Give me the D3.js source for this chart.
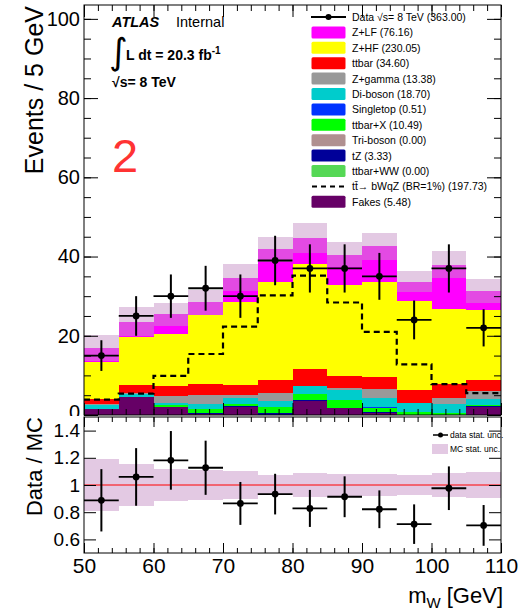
<!DOCTYPE html>
<html>
<meta charset="utf-8">
<style>
body { margin: 0; background: #fff; }
svg { display: block; font-family: "Liberation Sans", Arial, Helvetica, sans-serif; }
.tick line { stroke: #000; }
.domain { display: none; }
.frame { fill: none; stroke: #000; stroke-width: 1; }
text.leg { font-size: 10.5px; fill: #000; }
</style>
<body>
<svg id="chart" width="528" height="610"></svg>
<script src="https://d3js.org/d3.v7.min.js"></script>
<script>

// bins of m_W, 5 GeV wide
var binLow = [50, 55, 60, 65, 70, 75, 80, 85, 90, 95, 100, 105];
var dataCounts = [15, 25, 30, 32, 30, 39, 37, 37, 35, 24, 37, 22];

// backgrounds, bottom of the stack first
var fakes     = [1.4, 4.6, 1.9, 0.2, 2.0, 0.0, 3.5, 1.7, 0.6, 0.0, 0.0, 2.1];
var ttbarWW   = [0, 0, 0, 0, 0, 0, 0, 0, 0, 0, 0, 0];
var tZ        = [0, 0, 0.1, 0.2, 0.3, 0.4, 0.4, 0.15, 0.1, 0.1, 0.1, 0.05];
var triboson  = [0, 0, 0, 0, 0, 0, 0, 0, 0, 0, 0, 0];
var ttbarX    = [0.1, 0, 0.5, 1.0, 0.6, 1.6, 1.5, 2.0, 1.0, 0.6, 0.4, 0.4];
var singletop = [0, 0, 0, 0, 0, 0.1, 0, 0, 0.3, 0, 0.1, 0];
var diboson   = [1.1, 0.8, 0.6, 1.3, 1.4, 1.5, 2.0, 2.4, 2.3, 2.3, 2.1, 1.5];
var zgamma    = [0.3, 0.25, 1.6, 2.4, 0.7, 1.95, 0, 0.5, 2.2, 0, 1.7, 2.1];
var ttbar     = [1.2, 1.85, 2.5, 2.7, 2.5, 3.25, 4.2, 3.2, 3.2, 3.2, 3.4, 2.8];
var zhf       = [9.4, 12.2, 13.2, 17.4, 21.1, 24.7, 26.5, 22.95, 24.0, 22.7, 19.0, 17.55];
var zlf       = [3.4, 3.9, 5.0, 3.2, 6.1, 8.3, 6.6, 7.6, 8.9, 4.8, 11.1, 4.8];

// signal (not stacked) and MC relative stat. uncertainty
var signal   = [3.9, 5.4, 9.9, 15.4, 22.3, 30.2, 35.2, 28.4, 21.0, 12.8, 7.8, 5.5];
var mcRelErr = [0.19, 0.155, 0.115, 0.11, 0.10, 0.075, 0.085, 0.08, 0.08, 0.075, 0.09, 0.095];

var yTicksMain = [0, 20, 40, 60, 80, 100];
var yTicksRatio = [0.6, 0.8, 1.0, 1.2, 1.4];
var xTicks = [50, 60, 70, 80, 90, 100, 110];

var legendLabels = ["Data \u221As= 8 TeV (363.00)", "Z+LF (76.16)", "Z+HF (230.05)", "ttbar (34.60)",
  "Z+gamma (13.38)", "Di-boson (18.70)", "Singletop (0.51)", "ttbar+X (10.49)", "Tri-boson (0.00)",
  "tZ (3.33)", "ttbar+WW (0.00)", "t\u0074\u0304\u2192 bWqZ (BR=1%) (197.73)", "Fakes (5.48)"];

var series = [
  {key: "fakes", vals: fakes, color: "#660066"},
  {key: "ttbarWW", vals: ttbarWW, color: "#55d855"},
  {key: "tZ", vals: tZ, color: "#000099"},
  {key: "triboson", vals: triboson, color: "#b09090"},
  {key: "ttbarX", vals: ttbarX, color: "#00ff00"},
  {key: "singletop", vals: singletop, color: "#0033ff"},
  {key: "diboson", vals: diboson, color: "#00cccc"},
  {key: "zgamma", vals: zgamma, color: "#999999"},
  {key: "ttbar", vals: ttbar, color: "#ff0000"},
  {key: "zhf", vals: zhf, color: "#ffff00"},
  {key: "zlf", vals: zlf, color: "#ff00ff"}
];
var legendKeys = {1: "zlf", 2: "zhf", 3: "ttbar", 4: "zgamma", 5: "diboson", 6: "singletop",
  7: "ttbarX", 8: "triboson", 9: "tZ", 10: "ttbarWW", 12: "fakes"};

var svg = d3.select("#chart");
var x = d3.scaleLinear().domain([50, 110]).range([84, 501]);
var y = d3.scaleLinear().domain([0, 103.5]).range([415, 5]);
var yr = d3.scaleLinear().domain([0.5, 1.5]).range([553, 417]);

var rows = binLow.map(function(b, i) {
  var r = {bin: b};
  series.forEach(function(s) { r[s.key] = s.vals[i]; });
  return r;
});
var stacked = d3.stack().keys(series.map(function(s) { return s.key; }))(rows);
var totals = binLow.map(function(b, i) { return d3.sum(series, function(s) { return s.vals[i]; }); });

svg.append("clipPath").attr("id", "upclip").append("rect")
  .attr("x", 0).attr("y", 0).attr("width", 528).attr("height", 416);

var up = svg.append("g").attr("clip-path", "url(#upclip)");

// stack
stacked.forEach(function(layer, li) {
  up.append("g").selectAll("rect").data(layer).enter().append("rect")
    .attr("x", function(d) { return x(d.data.bin); })
    .attr("width", function(d) { return x(d.data.bin + 5) - x(d.data.bin); })
    .attr("y", function(d) { return y(d[1]); })
    .attr("height", function(d) { return Math.max(0, y(d[0]) - y(d[1])); })
    .attr("fill", series[li].color)
    .attr("shape-rendering", "crispEdges");
});

// MC stat band
up.append("g").selectAll("rect").data(binLow).enter().append("rect")
  .attr("x", function(d) { return x(d); })
  .attr("width", function(d) { return x(d + 5) - x(d); })
  .attr("y", function(d, i) { return y(totals[i] * (1 + mcRelErr[i])); })
  .attr("height", function(d, i) { return y(totals[i] * (1 - mcRelErr[i])) - y(totals[i] * (1 + mcRelErr[i])); })
  .attr("fill", "#c894c8").attr("fill-opacity", 0.5)
  .attr("shape-rendering", "crispEdges");

// signal dashed
var sigPts = binLow.map(function(b, i) { return [b, signal[i]]; });
sigPts.push([110, signal[signal.length - 1]]);
up.append("path").datum(sigPts)
  .attr("d", d3.line().curve(d3.curveStepAfter)
    .x(function(d) { return x(d[0]); }).y(function(d) { return y(d[1]); }))
  .attr("fill", "none").attr("stroke", "#000").attr("stroke-width", 2.2)
  .attr("stroke-dasharray", "6,4");

// data points
var pts = up.append("g");
binLow.forEach(function(b, i) {
  var n = dataCounts[i], e = Math.sqrt(n), cx = x(b + 2.5);
  pts.append("line").attr("x1", x(b)).attr("x2", x(b + 5)).attr("y1", y(n)).attr("y2", y(n))
    .attr("stroke", "#000").attr("stroke-width", 1.8);
  pts.append("line").attr("x1", cx).attr("x2", cx).attr("y1", y(n - e)).attr("y2", y(n + e))
    .attr("stroke", "#000").attr("stroke-width", 2);
  pts.append("circle").attr("cx", cx).attr("cy", y(n)).attr("r", 3.4).attr("fill", "#000");
});

function styleAxis(g, size) {
  g.selectAll("text").attr("font-family", "Liberation Sans, Arial, sans-serif")
    .attr("font-size", size).attr("fill", "#000");
  g.selectAll(".tick line").attr("stroke", "#000");
}

// upper axes
var minorY = d3.range(0, 104, 5);
var minorX = d3.range(50, 111, 2);
up.append("g").attr("transform", "translate(84,0)")
  .call(d3.axisLeft(y).tickValues(yTicksMain).tickSize(-14).tickPadding(4).tickFormat(d3.format("d")))
  .call(styleAxis, 20)
  .selectAll(".tick text").filter(function(d) { return d === 0; }).attr("dy", "0.15em");
up.append("g").attr("transform", "translate(84,0)")
  .call(d3.axisLeft(y).tickValues(minorY).tickSize(-7).tickFormat(""));
up.append("g").attr("transform", "translate(501,0)")
  .call(d3.axisRight(y).tickValues(yTicksMain).tickSize(-14).tickFormat(""));
up.append("g").attr("transform", "translate(501,0)")
  .call(d3.axisRight(y).tickValues(minorY).tickSize(-7).tickFormat(""));
up.append("g").attr("transform", "translate(0,5)")
  .call(d3.axisTop(x).tickValues(xTicks).tickSize(-12).tickFormat(""));
up.append("g").attr("transform", "translate(0,5)")
  .call(d3.axisTop(x).tickValues(minorX).tickSize(-6).tickFormat(""));
up.append("g").attr("transform", "translate(0,415)")
  .call(d3.axisBottom(x).tickValues(xTicks).tickSize(-12).tickFormat(""));
up.append("g").attr("transform", "translate(0,415)")
  .call(d3.axisBottom(x).tickValues(minorX).tickSize(-6).tickFormat(""));
up.append("rect").attr("class", "frame").attr("x", 84).attr("y", 5).attr("width", 417).attr("height", 410);

// ratio panel
var rp = svg.append("g");
rp.append("g").selectAll("rect").data(binLow).enter().append("rect")
  .attr("x", function(d) { return x(d); })
  .attr("width", function(d) { return x(d + 5) - x(d); })
  .attr("y", function(d, i) { return yr(1 + mcRelErr[i]); })
  .attr("height", function(d, i) { return yr(1 - mcRelErr[i]) - yr(1 + mcRelErr[i]); })
  .attr("fill", "#c894c8").attr("fill-opacity", 0.5)
  .attr("shape-rendering", "crispEdges");
rp.append("line").attr("x1", 84).attr("x2", 501).attr("y1", yr(1)).attr("y2", yr(1))
  .attr("stroke", "#ff0000").attr("stroke-width", 1);
binLow.forEach(function(b, i) {
  var r = dataCounts[i] / totals[i], e = Math.sqrt(dataCounts[i]) / totals[i], cx = x(b + 2.5);
  rp.append("line").attr("x1", x(b)).attr("x2", x(b + 5)).attr("y1", yr(r)).attr("y2", yr(r))
    .attr("stroke", "#000").attr("stroke-width", 1.8);
  rp.append("line").attr("x1", cx).attr("x2", cx).attr("y1", yr(r - e)).attr("y2", yr(r + e))
    .attr("stroke", "#000").attr("stroke-width", 2);
  rp.append("circle").attr("cx", cx).attr("cy", yr(r)).attr("r", 3.4).attr("fill", "#000");
});
rp.append("g").attr("transform", "translate(84,0)")
  .call(d3.axisLeft(yr).tickValues(yTicksRatio).tickSize(-12).tickPadding(4)
    .tickFormat(function(d) { return d === 1 ? "1" : d3.format(".1f")(d); }))
  .call(styleAxis, 19);
rp.append("g").attr("transform", "translate(501,0)")
  .call(d3.axisRight(yr).tickValues(yTicksRatio).tickSize(-12).tickFormat(""));
rp.append("g").attr("transform", "translate(0,417)")
  .call(d3.axisTop(x).tickValues(xTicks).tickSize(-10).tickFormat(""));
rp.append("g").attr("transform", "translate(0,417)")
  .call(d3.axisTop(x).tickValues(minorX).tickSize(-5).tickFormat(""));
rp.append("g").attr("transform", "translate(0,553)")
  .call(d3.axisBottom(x).tickValues(xTicks).tickSize(-10).tickPadding(5).tickFormat(d3.format("d")))
  .call(styleAxis, 21);
rp.append("g").attr("transform", "translate(0,553)")
  .call(d3.axisBottom(x).tickValues(minorX).tickSize(-5).tickFormat(""));
rp.append("rect").attr("class", "frame").attr("x", 84).attr("y", 417).attr("width", 417).attr("height", 136);

// axis titles
svg.append("text").attr("transform", "translate(43,6) rotate(-90)")
  .attr("text-anchor", "end").attr("font-size", 25).text("Events / 5 GeV");
svg.append("text").attr("transform", "translate(42,417) rotate(-90)")
  .attr("text-anchor", "end").attr("font-size", 22).text("Data / MC");
var xt = svg.append("text").attr("x", 503).attr("y", 603).attr("text-anchor", "end").attr("font-size", 22);
xt.append("tspan").text("m");
xt.append("tspan").attr("font-size", 15).attr("dy", 5).text("W");
xt.append("tspan").attr("dy", -5).text(" [GeV]");

// ATLAS label
var at = svg.append("text").attr("x", 112).attr("y", 27).attr("font-size", 14.5);
at.append("tspan").attr("font-weight", "bold").attr("font-style", "italic").text("ATLAS");
at.append("tspan").attr("x", 176).text("Internal");
svg.append("text").attr("x", 109).attr("y", 64).attr("font-size", 36)
  .attr("font-family", "DejaVu Sans, sans-serif").attr("font-weight", "normal").text("\u222B");
var lu = svg.append("text").attr("x", 126).attr("y", 60).attr("font-size", 14).attr("font-weight", "bold");
lu.append("tspan").text("L dt = 20.3 fb");
lu.append("tspan").attr("dy", -6).attr("font-size", 10).text("-1");
svg.append("text").attr("x", 112).attr("y", 87).attr("font-size", 14).attr("font-weight", "bold").text("\u221As= 8 TeV");
svg.append("text").attr("x", 112).attr("y", 172).attr("font-size", 47).attr("fill", "#ff3333").text("2");

// main legend
var lg = svg.append("g");
legendLabels.forEach(function(lab, i) {
  var cy = 17 + 15.4 * i;
  if (i === 0) {
    lg.append("line").attr("x1", 311).attr("x2", 346).attr("y1", cy).attr("y2", cy)
      .attr("stroke", "#000").attr("stroke-width", 1.8);
    lg.append("circle").attr("cx", 328.5).attr("cy", cy).attr("r", 3).attr("fill", "#000");
  } else if (i === 11) {
    lg.append("line").attr("x1", 312).attr("x2", 346).attr("y1", cy).attr("y2", cy)
      .attr("stroke", "#000").attr("stroke-width", 2).attr("stroke-dasharray", "5,4");
  } else {
    var s = series.find(function(d) { return legendKeys[i] === d.key; });
    lg.append("rect").attr("x", 311.5).attr("y", cy - 6).attr("width", 34).attr("height", 12)
      .attr("rx", 1.5).attr("fill", s.color);
  }
  lg.append("text").attr("class", "leg").attr("x", 352).attr("y", cy + 4).text(lab);
});

// ratio legend
svg.append("line").attr("x1", 433).attr("x2", 448).attr("y1", 435).attr("y2", 435)
  .attr("stroke", "#000").attr("stroke-width", 1.5);
svg.append("circle").attr("cx", 440.5).attr("cy", 435).attr("r", 2.5).attr("fill", "#000");
svg.append("text").attr("x", 450).attr("y", 438).attr("font-size", 8.5).text("data stat. unc.");
svg.append("rect").attr("x", 432).attr("y", 444).attr("width", 16).attr("height", 10)
  .attr("fill", "#c894c8").attr("fill-opacity", 0.5);
svg.append("text").attr("x", 450).attr("y", 452).attr("font-size", 8.5).text("MC stat. unc.");

</script>
</body>
</html>
